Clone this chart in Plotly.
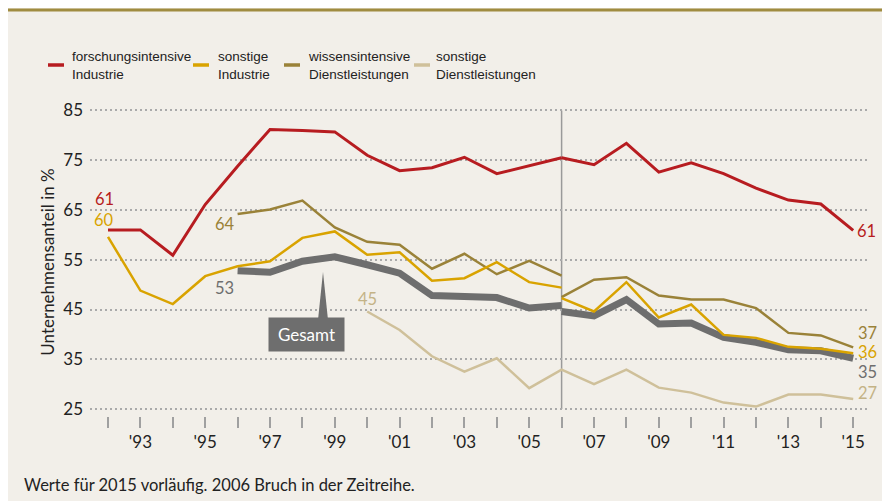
import plotly.graph_objects as go

# ---------------- data ----------------
years_a = list(range(1992, 2007))          # before the 2006 break
years_b = list(range(2006, 2016))          # after the 2006 break
years_wiss_a = list(range(1996, 2007))
years_dl = list(range(2000, 2016))

forsch_a = [61.0, 61.0, 55.9, 66.1, 73.8, 81.2, 81.0, 80.7, 76.0, 72.9, 73.5, 75.6, 72.3, 73.9, 75.5]
forsch_b = [75.5, 74.1, 78.4, 72.6, 74.5, 72.3, 69.4, 67.0, 66.2, 60.9]

sonst_ind_a = [59.6, 48.8, 46.1, 51.7, 53.7, 54.7, 59.4, 60.7, 56.0, 56.5, 50.8, 51.3, 54.5, 50.5, 49.4]
sonst_ind_b = [47.3, 44.6, 50.5, 43.4, 46.0, 39.9, 39.3, 37.5, 37.1, 36.2]

wiss_a = [64.2, 65.1, 66.9, 61.5, 58.6, 58.0, 53.2, 56.2, 52.1, 54.8, 51.8]
wiss_b = [47.5, 51.0, 51.5, 47.8, 47.0, 47.0, 45.3, 40.3, 39.8, 37.4]

gesamt_a = [52.8, 52.5, 54.7, 55.6, 54.0, 52.3, 47.8, 47.6, 47.4, 45.3, 45.8]
gesamt_b = [44.6, 43.7, 47.0, 42.1, 42.3, 39.4, 38.4, 36.9, 36.7, 35.2]

sonst_dl = [44.6, 40.9, 35.6, 32.5, 35.2, 29.2, 32.9, 30.0, 32.9, 29.3, 28.3, 26.3, 25.5, 27.9, 27.9, 27.0]

legend_labels = ["forschungsintensive<br>Industrie", "sonstige<br>Industrie",
                 "wissensintensive<br>Dienstleistungen", "sonstige<br>Dienstleistungen"]
tick_years = list(range(1992, 2016))
tick_text = ["'" + str(y)[2:] if y % 2 == 1 else "" for y in tick_years]
y_ticks = [25, 35, 45, 55, 65, 75, 85]
break_year = 2006
y_title = "Unternehmensanteil in %"
gesamt_label = "Gesamt"
footnote = "Werte für 2015 vorläufig. 2006 Bruch in der Zeitreihe."

# ---------------- style ----------------
RED = "#b71c20"
YEL = "#d9a300"
OLV = "#9a8238"
BEI = "#cfc09a"
BEI_T = "#c4b386"
GRY = "#6e6e6e"
BG = "#f2efe9"
TXT = "#222222"
NUM_FONT = "Lato, 'Open Sans', sans-serif"
LEG_FONT = "'Liberation Sans', Arial, sans-serif"

OFF = 8                      # page body margin
ML, MR, MT, MB = 82, 20, 100, 85
W, H = 882, 493
PW, PH = W - ML - MR, H - MT - MB


def px_x(px):
    """reference-picture pixel x -> paper x"""
    return (px - OFF - ML) / PW


def px_y(py):
    """reference-picture pixel y -> paper y"""
    return (H - MB - (py - OFF)) / PH


fig = go.Figure()


def add_line(x, y, color, width):
    fig.add_trace(go.Scatter(x=x, y=y, mode="lines", line=dict(color=color, width=width),
                             hoverinfo="x+y", showlegend=False))


add_line(years_wiss_a, gesamt_a, GRY, 7)
add_line(years_b, gesamt_b, GRY, 7)
add_line(years_dl, sonst_dl, BEI, 2.5)
add_line(years_wiss_a, wiss_a, OLV, 2.5)
add_line(years_b, wiss_b, OLV, 2.5)
add_line(years_a, sonst_ind_a, YEL, 2.5)
add_line(years_b, sonst_ind_b, YEL, 2.5)
add_line(years_a, forsch_a, RED, 3)
add_line(years_b, forsch_b, RED, 3)

shapes = []
# top border
shapes.append(dict(type="rect", xref="paper", yref="paper", x0=px_x(0), x1=px_x(W + OFF + 5),
                   y0=px_y(11.5), y1=px_y(8.5), fillcolor="#a08c40", line=dict(width=0), layer="below"))
# break line
shapes.append(dict(type="line", xref="x", yref="y", x0=break_year, x1=break_year, y0=25, y1=85,
                   line=dict(color="#9a9a9a", width=1.5), layer="below"))
# Gesamt pointer
shapes.append(dict(type="path", xref="paper", yref="paper",
                   path="M {a},{b} L {c},{d} L {e},{f} Z".format(
                       a=px_x(318), b=px_y(320), c=px_x(323), d=px_y(272), e=px_x(328), f=px_y(320)),
                   fillcolor=GRY, line=dict(width=0)))

annotations = []
# legend
leg_colors = [RED, YEL, OLV, BEI]
leg_sample_x = [48, 193, 284, 414]
leg_text_x = [70, 216, 306, 434]
for lab, col, sx, tx in zip(legend_labels, leg_colors, leg_sample_x, leg_text_x):
    shapes.append(dict(type="line", xref="paper", yref="paper", x0=px_x(sx), x1=px_x(sx + 16),
                       y0=px_y(65), y1=px_y(65), line=dict(color=col, width=3.5)))
    annotations.append(dict(text=lab, xref="paper", yref="paper", x=px_x(tx), y=px_y(65),
                            xanchor="left", yanchor="middle", align="left", showarrow=False,
                            font=dict(family=LEG_FONT, size=13.5, color=TXT)))

# Gesamt box
annotations.append(dict(text=gesamt_label, xref="paper", yref="paper", x=px_x(306.5), y=px_y(334.5),
                        xanchor="center", yanchor="middle", showarrow=False, width=73, height=31,
                        bgcolor=GRY, font=dict(family=NUM_FONT, size=17, color="white")))


def val_label(x, y, col, dx, dy, anchor="center"):
    annotations.append(dict(text=str(int(round(y))), x=x, y=y, xref="x", yref="y", showarrow=False,
                            xshift=dx, yshift=dy, xanchor=anchor, yanchor="middle",
                            font=dict(family=NUM_FONT, size=16.5, color=col)))


# start labels
val_label(years_a[0], forsch_a[0], RED, -4, 31)
val_label(years_a[0], sonst_ind_a[0], YEL, -4, 17)
val_label(years_wiss_a[0], wiss_a[0], OLV, -13, -10)
val_label(years_wiss_a[0], gesamt_a[0], GRY, -13, -17)
val_label(years_dl[0], sonst_dl[0], BEI_T, 0, 13)
# end labels
val_label(years_b[-1], forsch_b[-1], RED, 2, -1, "left")
val_label(years_b[-1], wiss_b[-1], OLV, 3, 14, "left")
val_label(years_b[-1], sonst_ind_b[-1], YEL, 3, 1, "left")
val_label(years_b[-1], gesamt_b[-1], GRY, 3, -14, "left")
val_label(years_dl[-1], sonst_dl[-1], BEI_T, 3, 6, "left")

# footnote
annotations.append(dict(text=footnote, xref="paper", yref="paper", x=px_x(22), y=px_y(485),
                        xanchor="left", yanchor="middle", showarrow=False,
                        font=dict(family=NUM_FONT, size=16.5, color=TXT)))

x0 = 1992 - 18 / 32.4
fig.update_layout(
    width=W, height=H,
    margin=dict(l=ML, r=MR, t=MT, b=MB, autoexpand=False),
    paper_bgcolor=BG, plot_bgcolor="rgba(0,0,0,0)",
    showlegend=False,
    shapes=shapes, annotations=annotations,
    font=dict(family=NUM_FONT, size=17, color=TXT),
    xaxis=dict(range=[x0, x0 + PW / 32.4], tickvals=tick_years, ticktext=tick_text,
               ticks="outside", ticklen=11, tickwidth=1.5, tickcolor="#a0a0a0",
               showgrid=False, zeroline=False, showline=False,
               tickfont=dict(family=NUM_FONT, size=17, color=TXT)),
    yaxis=dict(range=[23.6, 85.5], tickvals=y_ticks, showgrid=True, gridcolor="#aaaaaa",
               gridwidth=1.5, griddash="2px,3px", zeroline=False, showline=False, ticks="",
               ticklabelstandoff=6,
               tickfont=dict(family=NUM_FONT, size=17, color=TXT),
               title=dict(text=y_title, standoff=4, font=dict(family=NUM_FONT, size=17, color=TXT))),
)

fig.write_html("out.html")
